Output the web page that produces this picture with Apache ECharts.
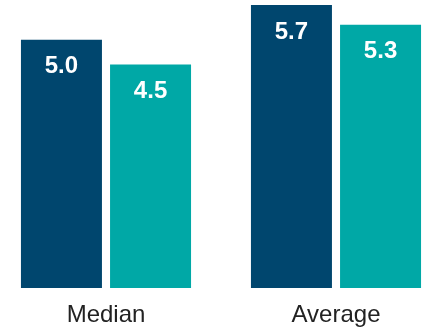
<!DOCTYPE html>
<html>
<head>
<meta charset="utf-8">
<script src="https://cdn.jsdelivr.net/npm/echarts@6/dist/echarts.min.js"></script>
<style>
  html, body { margin: 0; padding: 0; background: #ffffff; }
  #chart { width: 426px; height: 331px; }
</style>
</head>
<body>
<div id="chart"></div>
<script>
// Two statistics, each compared across two series
const categories = ['Median', 'Average'];
const seriesA = [5.0, 5.7];
const seriesB = [4.5, 5.3];

const chart = echarts.init(document.getElementById('chart'), null, { renderer: 'canvas' });

const valueLabel = {
  show: true,
  position: 'insideTop',
  distance: 15,
  color: '#ffffff',
  fontFamily: 'Liberation Sans, Arial, sans-serif',
  fontWeight: 'bold',
  fontSize: 24,
  formatter: p => p.value.toFixed(1)
};

chart.setOption({
  animation: false,
  // the plot area runs a little past both edges so the two groups sit where wanted
  grid: { left: -9, width: 460, top: 0, height: 288, containLabel: false, outerBoundsMode: 'none' },
  xAxis: {
    type: 'category',
    data: categories,
    axisLine: { show: false },
    axisTick: { show: false },
    axisLabel: {
      margin: 15,
      color: '#222222',
      fontFamily: 'Liberation Sans, Arial, sans-serif',
      fontSize: 24
    }
  },
  yAxis: {
    type: 'value',
    min: 0,
    max: 5.8,
    show: false,
    splitLine: { show: false }
  },
  series: [
    {
      type: 'bar',
      data: seriesA,
      barWidth: 81,
      barGap: '10%',
      itemStyle: { color: '#00466E' },
      label: valueLabel
    },
    {
      type: 'bar',
      data: seriesB,
      barWidth: 81,
      barGap: '10%',
      itemStyle: { color: '#00A8A6' },
      label: valueLabel
    }
  ]
});
</script>
</body>
</html>
